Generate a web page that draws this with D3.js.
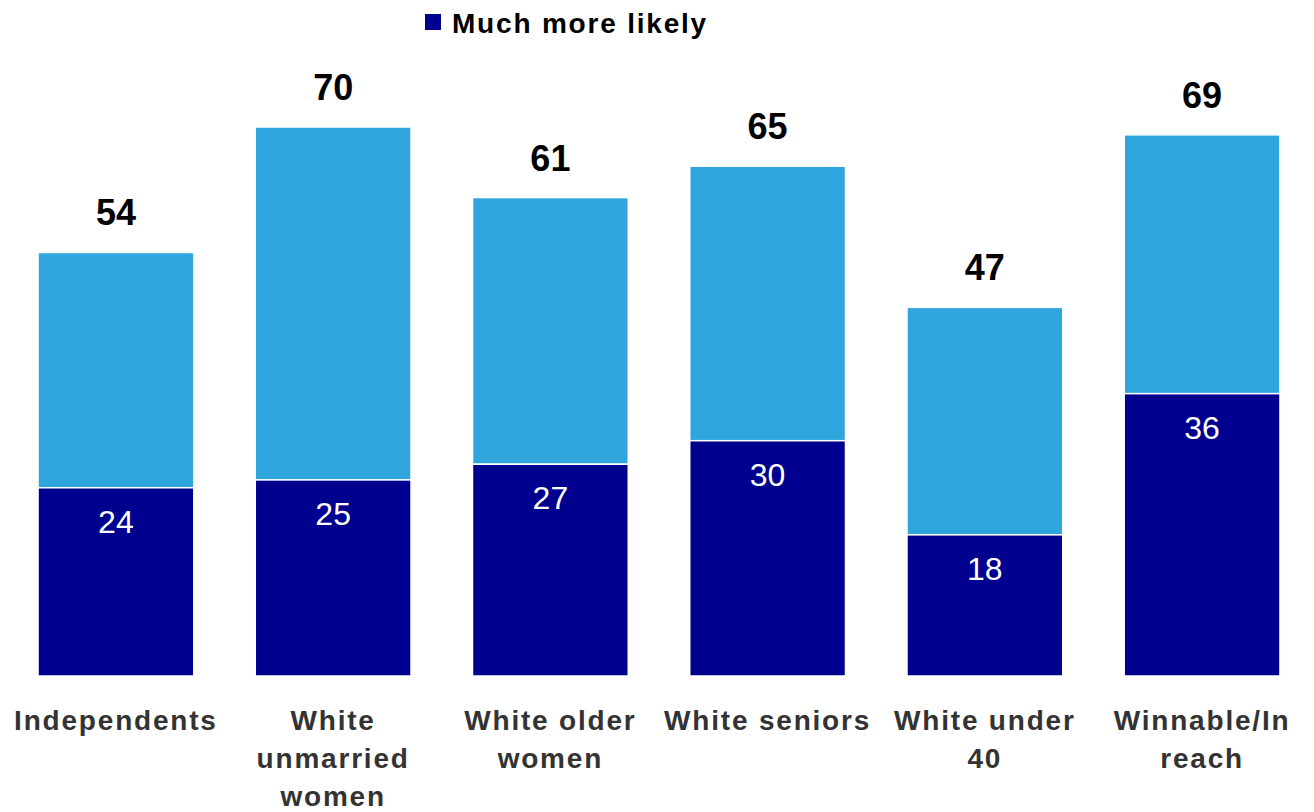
<!DOCTYPE html>
<html><head><meta charset="utf-8">
<script src="https://cdn.jsdelivr.net/npm/d3@7"></script>
<style>body{margin:0;background:#fff;}svg{display:block;font-family:"Liberation Sans",Arial,sans-serif;}</style>
</head><body>
<svg id="c" width="1314" height="812"></svg>
<script>
const categories = ["Independents", "White unmarried women", "White older women", "White seniors", "White under 40", "Winnable/In reach"];
const categoryLines = [["Independents"], ["White", "unmarried", "women"], ["White older", "women"], ["White seniors"], ["White under", "40"], ["Winnable/In", "reach"]];
const muchMore = [24, 25, 27, 30, 18, 36];
const total = [54, 70, 61, 65, 47, 69];
const legendLabel = "Much more likely";

const svg = d3.select("#c");
const x = d3.scaleBand().domain(categories).range([7.3, 1310.7]).paddingInner(0.283).paddingOuter(0.1415);
const y = d3.scaleLinear().domain([0, 70]).range([676, 127]);
const dark = "#00008F", light = "#2EA5DC";

const g = svg.append("g");
categories.forEach((c, i) => {
  g.append("rect").attr("x", x(c)).attr("width", x.bandwidth())
    .attr("y", y(total[i])).attr("height", y(muchMore[i]) - y(total[i]))
    .attr("fill", light).attr("stroke", "#fff").attr("stroke-width", 1.5);
  g.append("rect").attr("x", x(c)).attr("width", x.bandwidth())
    .attr("y", y(muchMore[i])).attr("height", y(0) - y(muchMore[i]))
    .attr("fill", dark).attr("stroke", "#fff").attr("stroke-width", 1.5);
  g.append("text").attr("x", x(c) + x.bandwidth() / 2).attr("y", y(total[i]) - 27)
    .attr("text-anchor", "middle").attr("font-size", 36).attr("font-weight", "bold")
    .attr("fill", "#000").text(total[i]);
  g.append("text").attr("x", x(c) + x.bandwidth() / 2).attr("y", y(muchMore[i]) + 45)
    .attr("text-anchor", "middle").attr("font-size", 32)
    .attr("fill", "#fff").text(muchMore[i]);
  const t = g.append("text").attr("text-anchor", "middle").attr("font-size", 28)
    .attr("font-weight", "bold").attr("fill", "#333").attr("letter-spacing", 1.8);
  categoryLines[i].forEach((ln, j) => {
    t.append("tspan").attr("x", x(c) + x.bandwidth() / 2).attr("y", 730 + j * 38).text(ln);
  });
});

const lg = svg.append("g");
lg.append("rect").attr("x", 425).attr("y", 14).attr("width", 16).attr("height", 16).attr("fill", dark);
lg.append("text").attr("x", 452).attr("y", 33).attr("font-size", 28).attr("font-weight", "bold")
  .attr("letter-spacing", 1.8).attr("fill", "#000").text(legendLabel);
</script>
</body></html>
